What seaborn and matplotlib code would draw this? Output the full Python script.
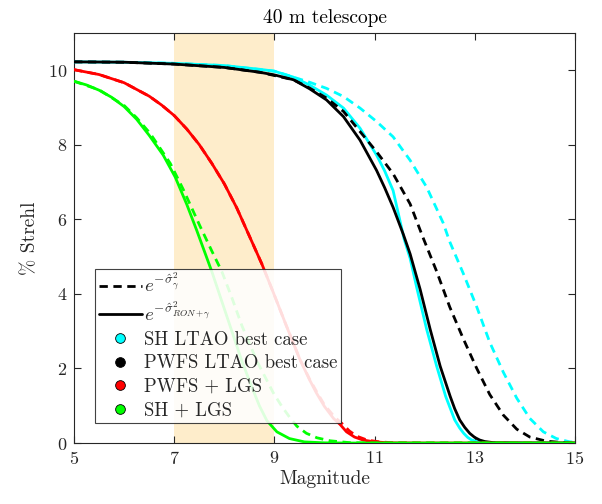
import numpy as np
import pandas as pd
import matplotlib
matplotlib.use("Agg")
import matplotlib.pyplot as plt
from matplotlib.lines import Line2D
import seaborn as sns

sns.set_theme(style="white")
plt.rcParams["font.family"] = ["serif"]
plt.rcParams["font.serif"] = ["cmr10", "DejaVu Serif"]
plt.rcParams["mathtext.fontset"] = "cm"
plt.rcParams["axes.unicode_minus"] = False
plt.rcParams["axes.formatter.use_mathtext"] = True

# ---- data ----
sh_ltao_ron_mag = [5, 6, 7, 8, 8.71, 9, 9.38, 9.7, 10.04, 10.38, 10.71, 11.04, 11.2, 11.37, 11.59, 11.71, 11.85, 12.04, 12.24, 12.42, 12.52, 12.60, 12.70, 12.78, 12.86, 12.94, 13.05, 13.2, 13.6, 15]
sh_ltao_ron_val = [10.22, 10.21, 10.18, 10.12, 10.02, 9.97, 9.81, 9.6, 9.33, 8.98, 8.44, 7.72, 7.3, 6.77, 5.47, 4.95, 4.12, 3.05, 2.06, 1.25, 0.9, 0.62, 0.4, 0.26, 0.15, 0.08, 0.04, 0.01, 0.0, 0.0]

sh_ltao_g_mag = [5, 6, 7, 8, 9, 9.38, 9.71, 10.04, 10.38, 10.71, 11.04, 11.37, 11.71, 12.04, 12.37, 12.50, 12.77, 13.04, 13.30, 13.57, 13.84, 14.10, 14.37, 14.63, 14.90, 15]
sh_ltao_g_val = [10.22, 10.21, 10.18, 10.12, 9.97, 9.81, 9.67, 9.51, 9.29, 8.98, 8.62, 8.21, 7.58, 6.86, 5.9, 5.4, 4.55, 3.65, 2.7, 1.9, 1.2, 0.66, 0.3, 0.12, 0.03, 0.02]

pw_ltao_ron_mag = [5, 6, 7, 8, 8.71, 9, 9.38, 9.7, 10.04, 10.38, 10.71, 11.04, 11.2, 11.37, 11.57, 11.71, 11.91, 12.11, 12.31, 12.51, 12.60, 12.70, 12.80, 12.90, 13.0, 13.10, 13.2, 13.37, 14, 15]
pw_ltao_ron_val = [10.22, 10.21, 10.16, 10.07, 9.94, 9.87, 9.74, 9.5, 9.20, 8.75, 8.12, 7.31, 6.85, 6.32, 5.61, 5.07, 4.12, 3.05, 2.06, 1.25, 0.92, 0.62, 0.42, 0.26, 0.15, 0.08, 0.04, 0.01, 0.0, 0.0]

pw_ltao_g_mag = [5, 6, 7, 8, 8.71, 9.38, 9.7, 10.04, 10.38, 10.71, 11.04, 11.37, 11.71, 11.97, 12.24, 12.50, 12.77, 13.04, 13.30, 13.57, 13.84, 14.10, 14.43, 14.77, 15]
pw_ltao_g_val = [10.22, 10.21, 10.16, 10.07, 9.94, 9.74, 9.52, 9.25, 8.89, 8.35, 7.81, 7.22, 6.41, 5.5, 4.6, 3.65, 2.8, 2.0, 1.3, 0.75, 0.37, 0.16, 0.05, 0.01, 0.0]

pw_lgs_ron_mag = [5, 5.5, 6, 6.5, 6.75, 7, 7.25, 7.5, 7.75, 8, 8.25, 8.5, 8.75, 8.98, 9.24, 9.51, 9.7, 9.84, 10.0, 10.18, 10.31, 10.44, 10.6, 10.77, 11.0, 11.3, 12, 15]
pw_lgs_ron_val = [10.01, 9.88, 9.66, 9.3, 9.06, 8.78, 8.42, 8.0, 7.5, 6.95, 6.3, 5.55, 4.8, 4.03, 3.14, 2.24, 1.7, 1.34, 0.98, 0.66, 0.5, 0.3, 0.16, 0.08, 0.03, 0.005, 0.0, 0.0]

pw_lgs_g_mag = [5, 5.5, 6, 6.5, 6.75, 7, 7.25, 7.5, 7.75, 8, 8.25, 8.5, 8.75, 8.98, 9.24, 9.51, 9.7, 9.85, 10.0, 10.2, 10.35, 10.5, 10.65, 10.85, 11.1, 11.4, 12, 15]
pw_lgs_g_val = [10.01, 9.88, 9.66, 9.3, 9.06, 8.78, 8.42, 8.0, 7.5, 6.95, 6.3, 5.55, 4.8, 4.03, 3.14, 2.24, 1.72, 1.36, 1.02, 0.7, 0.52, 0.32, 0.18, 0.08, 0.03, 0.005, 0.0, 0.0]

sh_lgs_ron_mag = [5, 5.25, 5.5, 5.75, 6, 6.25, 6.5, 6.78, 7.02, 7.25, 7.45, 7.6, 7.75, 7.95, 8.15, 8.35, 8.55, 8.7, 8.85, 9.05, 9.3, 9.6, 10, 10.5, 15]
sh_lgs_ron_val = [9.70, 9.6, 9.46, 9.27, 9.02, 8.68, 8.25, 7.72, 7.13, 6.4, 5.7, 5.15, 4.6, 3.8, 3.0, 2.2, 1.5, 1.0, 0.6, 0.3, 0.12, 0.03, 0.005, 0.0, 0.0]

sh_lgs_g_mag = [5, 5.5, 6, 6.25, 6.52, 6.92, 7.18, 7.51, 7.75, 7.95, 8.15, 8.35, 8.65, 8.98, 9.15, 9.31, 9.45, 9.64, 9.85, 10.11, 10.5, 11, 15]
sh_lgs_g_val = [9.70, 9.47, 9.05, 8.72, 8.3, 7.5, 6.8, 5.83, 5.15, 4.6, 3.9, 3.15, 2.2, 1.34, 0.98, 0.68, 0.45, 0.26, 0.14, 0.06, 0.01, 0.0, 0.0]

wfs_labels = ["SH LTAO best case", "PWFS LTAO best case", "PWFS + LGS", "SH + LGS"]
wfs_colors = ["#00FFFF", "#000000", "#FF0000", "#00FF00"]
legend_lines = [r"$e^{-\hat{\sigma}^2_{\gamma}}$", r"$e^{-\hat{\sigma}^2_{RON+\gamma}}$"]

series = [
    (sh_ltao_g_mag, sh_ltao_g_val, 0, "dash"),
    (sh_ltao_ron_mag, sh_ltao_ron_val, 0, "solid"),
    (pw_ltao_g_mag, pw_ltao_g_val, 1, "dash"),
    (pw_ltao_ron_mag, pw_ltao_ron_val, 1, "solid"),
    (pw_lgs_g_mag, pw_lgs_g_val, 2, "dash"),
    (pw_lgs_ron_mag, pw_lgs_ron_val, 2, "solid"),
    (sh_lgs_g_mag, sh_lgs_g_val, 3, "dash"),
    (sh_lgs_ron_mag, sh_lgs_ron_val, 3, "solid"),
]

fig = plt.figure(figsize=(6.02, 5.04), dpi=100)
ax = fig.add_axes([0.123, 0.121, 0.832, 0.814])

ax.axvspan(7, 9, color="#FEEDCB", lw=0, zorder=0)

for mags, vals, wi, kind in series:
    df = pd.DataFrame({"mag": mags, "strehl": vals})
    ls = (0, (3.0, 2.0)) if kind == "dash" else "-"
    sns.lineplot(data=df, x="mag", y="strehl", color=wfs_colors[wi], linestyle=ls,
                 lw=2.0, ax=ax, estimator=None, sort=False, legend=False, zorder=3)

ax.set_xlim(5, 15)
ax.set_ylim(0, 11)
ax.set_xticks([5, 7, 9, 11, 13, 15])
ax.set_yticks([0, 2, 4, 6, 8, 10])
ax.set_xlabel("Magnitude", fontsize=14, color="#262626", labelpad=2)
ax.set_ylabel("% Strehl", fontsize=14, color="#262626", labelpad=6)
ax.set_title("40 m telescope", fontsize=14, color="black", pad=7)
ax.tick_params(direction="in", length=5, width=0.8, colors="#262626", labelsize=13,
               top=True, right=True, bottom=True, left=True, pad=5)
for sp in ax.spines.values():
    sp.set_color("#262626")
    sp.set_linewidth(0.8)

handles = [
    Line2D([], [], color="black", lw=2.0, linestyle=(0, (3.0, 2.0))),
    Line2D([], [], color="black", lw=2.0, linestyle="-"),
]
for c in wfs_colors:
    handles.append(Line2D([], [], linestyle="none", marker="o", markersize=7,
                          markerfacecolor=c, markeredgecolor="black", markeredgewidth=0.6))
labels = legend_lines + wfs_labels
leg = ax.legend(handles, labels, loc="lower left", bbox_to_anchor=(0.042, 0.049),
                borderaxespad=0, fontsize=13.5, handlelength=2.3, handletextpad=0.12,
                labelspacing=0.3, borderpad=0.2, fancybox=False, framealpha=0.87,
                edgecolor="#262626")
leg.get_frame().set_linewidth(0.8)
leg.set_zorder(5)

fig.savefig("out.png", dpi=100)
